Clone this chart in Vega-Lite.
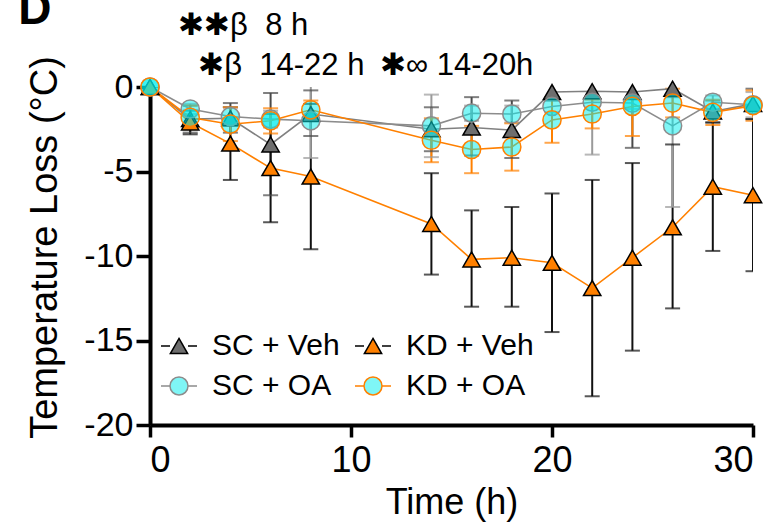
{
  "$schema": "https://vega.github.io/schema/vega-lite/v6.json",
  "width": 603,
  "height": 338,
  "autosize": {"type": "none"},
  "padding": {"left": 150, "top": 87, "right": 30, "bottom": 99},
  "background": "white",
  "config": {
    "view": {"stroke": null},
    "font": "Liberation Sans",
    "axis": {
      "domainColor": "#000000", "domainWidth": 4, "tickColor": "#000000", "tickWidth": 3.5,
      "labelColor": "#000000", "titleColor": "#000000", "grid": false,
      "labelFont": "Liberation Sans", "titleFont": "Liberation Sans", "titleFontWeight": "normal"
    },
    "legend": {
      "orient": "none", "legendX": 10, "legendY": 240, "columns": 2, "padding": 0,
      "columnPadding": 12, "rowPadding": 6, "labelOffset": 14,
      "labelFont": "Liberation Sans", "labelFontSize": 30, "labelColor": "#000000", "labelLimit": 300,
      "symbolSize": 1296, "symbolStrokeWidth": 1.5, "symbolOpacity": 1, "title": null
    }
  },
  "datasets": {
    "d": [
      {"group": "SC + Veh", "time": 0, "mean": 0, "lo": 0, "hi": 0},
      {"group": "SC + Veh", "time": 2, "mean": -1.9, "lo": -2.7, "hi": -1.1},
      {"group": "SC + Veh", "time": 4, "mean": -1.85, "lo": -2.7, "hi": -0.95},
      {"group": "SC + Veh", "time": 6, "mean": -3.4, "lo": -6.4, "hi": -0.35},
      {"group": "SC + Veh", "time": 8, "mean": -1.6, "lo": -2.9, "hi": -0.2},
      {"group": "SC + Veh", "time": 14, "mean": -2.5, "lo": -3.8, "hi": -1.2},
      {"group": "SC + Veh", "time": 16, "mean": -2.4, "lo": -4.05, "hi": -0.6},
      {"group": "SC + Veh", "time": 18, "mean": -2.55, "lo": -4.2, "hi": -0.8},
      {"group": "SC + Veh", "time": 20, "mean": -0.3, "lo": -0.8, "hi": 0.2},
      {"group": "SC + Veh", "time": 22, "mean": -0.25, "lo": -0.7, "hi": 0.2},
      {"group": "SC + Veh", "time": 24, "mean": -0.3, "lo": -3.6, "hi": 3.0},
      {"group": "SC + Veh", "time": 26, "mean": -0.1, "lo": -0.6, "hi": 0.4},
      {"group": "SC + Veh", "time": 28, "mean": -1.45, "lo": -2.1, "hi": -0.8},
      {"group": "SC + Veh", "time": 30, "mean": -1.0, "lo": -1.9, "hi": -0.1},
      {"group": "KD + Veh", "time": 0, "mean": 0, "lo": 0, "hi": 0},
      {"group": "KD + Veh", "time": 2, "mean": -2.1, "lo": -2.8, "hi": -1.4},
      {"group": "KD + Veh", "time": 4, "mean": -3.35, "lo": -5.5, "hi": -1.2},
      {"group": "KD + Veh", "time": 6, "mean": -4.8, "lo": -8.0, "hi": -1.6},
      {"group": "KD + Veh", "time": 8, "mean": -5.3, "lo": -9.6, "hi": -1.0},
      {"group": "KD + Veh", "time": 14, "mean": -8.1, "lo": -11.1, "hi": -5.1},
      {"group": "KD + Veh", "time": 16, "mean": -10.2, "lo": -13.0, "hi": -7.3},
      {"group": "KD + Veh", "time": 18, "mean": -10.1, "lo": -13.0, "hi": -7.1},
      {"group": "KD + Veh", "time": 20, "mean": -10.4, "lo": -14.5, "hi": -6.3},
      {"group": "KD + Veh", "time": 22, "mean": -11.9, "lo": -18.3, "hi": -5.5},
      {"group": "KD + Veh", "time": 24, "mean": -10.1, "lo": -15.6, "hi": -4.5},
      {"group": "KD + Veh", "time": 26, "mean": -8.3, "lo": -13.1, "hi": -3.4},
      {"group": "KD + Veh", "time": 28, "mean": -5.9, "lo": -9.7, "hi": -2.1},
      {"group": "KD + Veh", "time": 30, "mean": -6.4, "lo": -10.9, "hi": -1.9},
      {"group": "SC + OA", "time": 0, "mean": 0, "lo": 0, "hi": 0},
      {"group": "SC + OA", "time": 2, "mean": -1.3, "lo": -1.6, "hi": -1.0},
      {"group": "SC + OA", "time": 4, "mean": -1.75, "lo": -2.3, "hi": -1.2},
      {"group": "SC + OA", "time": 6, "mean": -1.9, "lo": -2.4, "hi": -1.4},
      {"group": "SC + OA", "time": 8, "mean": -2.0, "lo": -4.2, "hi": 0.2},
      {"group": "SC + OA", "time": 14, "mean": -2.3, "lo": -4.15, "hi": -0.45},
      {"group": "SC + OA", "time": 16, "mean": -1.55, "lo": -2.0, "hi": -1.1},
      {"group": "SC + OA", "time": 18, "mean": -1.6, "lo": -2.1, "hi": -1.1},
      {"group": "SC + OA", "time": 20, "mean": -1.15, "lo": -1.5, "hi": -0.8},
      {"group": "SC + OA", "time": 22, "mean": -0.9, "lo": -4.0, "hi": 2.2},
      {"group": "SC + OA", "time": 24, "mean": -0.95, "lo": -1.3, "hi": -0.6},
      {"group": "SC + OA", "time": 26, "mean": -2.3, "lo": -7.1, "hi": 2.5},
      {"group": "SC + OA", "time": 28, "mean": -0.9, "lo": -1.3, "hi": -0.5},
      {"group": "SC + OA", "time": 30, "mean": -1.05, "lo": -1.8, "hi": -0.3},
      {"group": "KD + OA", "time": 0, "mean": 0, "lo": 0, "hi": 0},
      {"group": "KD + OA", "time": 2, "mean": -1.8, "lo": -2.5, "hi": -1.1},
      {"group": "KD + OA", "time": 4, "mean": -2.2, "lo": -3.2, "hi": -1.2},
      {"group": "KD + OA", "time": 6, "mean": -2.0, "lo": -2.75, "hi": -1.25},
      {"group": "KD + OA", "time": 8, "mean": -1.35, "lo": -1.85, "hi": -0.8},
      {"group": "KD + OA", "time": 14, "mean": -3.15, "lo": -4.45, "hi": -1.85},
      {"group": "KD + OA", "time": 16, "mean": -3.7, "lo": -5.1, "hi": -2.3},
      {"group": "KD + OA", "time": 18, "mean": -3.55, "lo": -4.95, "hi": -2.15},
      {"group": "KD + OA", "time": 20, "mean": -1.95, "lo": -3.3, "hi": -0.6},
      {"group": "KD + OA", "time": 22, "mean": -1.6, "lo": -2.45, "hi": -0.75},
      {"group": "KD + OA", "time": 24, "mean": -1.15, "lo": -2.9, "hi": 0.6},
      {"group": "KD + OA", "time": 26, "mean": -0.95, "lo": -1.8, "hi": -0.1},
      {"group": "KD + OA", "time": 28, "mean": -1.5, "lo": -2.25, "hi": -0.75},
      {"group": "KD + OA", "time": 30, "mean": -1.1, "lo": -2.0, "hi": -0.2}
    ],
    "notes": [
      {"label": "✱✱β\u00a0\u00a08 h", "x": 1.4, "y": 3.05, "kind": "note"},
      {"label": "✱β\u00a0\u00a014-22 h", "x": 2.4, "y": 0.7, "kind": "note"},
      {"label": "✱∞ 14-20h", "x": 11.45, "y": 0.7, "kind": "note"},
      {"label": "D", "x": -6.55, "y": 3.73, "kind": "panel"}
    ]
  },
  "encoding": {
    "x": {"field": "time", "type": "quantitative",
      "scale": {"domain": [0, 30], "nice": false, "zero": false},
      "axis": {"values": [0, 10, 20, 30], "tickSize": 12, "labelFontSize": 36, "labelPadding": 6,
        "title": "Time (h)", "titleFontSize": 36, "titlePadding": 7}},
    "y": {"field": "mean", "type": "quantitative",
      "scale": {"domain": [-20, 0], "nice": false, "zero": false},
      "axis": {"values": [0, -5, -10, -15, -20], "labelExpr": "toString(datum.value)", "tickSize": 14, "labelFontSize": 34, "labelPadding": 3,
        "title": "Temperature Loss (°C)", "titleFontSize": 38, "titlePadding": 19, "titleY": 160}}
  },
  "resolve": {"scale": {"color": "independent"}},
  "layer": [
    {
      "data": {"values": [{"a": 0}]},
      "mark": {"type": "rule", "color": "#000000", "strokeWidth": 2.5, "strokeDash": [2.5, 3.5]},
      "encoding": {"x": {"datum": 0}, "x2": {"datum": 30}, "y": {"datum": 0}}
    },
    {
      "data": {"name": "d"},
      "mark": {"type": "rule", "strokeWidth": 2, "clip": true},
      "encoding": {
        "y": {"field": "lo"}, "y2": {"field": "hi"},
        "color": {"field": "group", "type": "nominal", "legend": null,
          "scale": {"domain": ["SC + Veh", "SC + OA", "KD + Veh", "KD + OA"], "range": ["#4a4a4a", "#9a9a9a", "#111111", "#ff8000"]}}
      }
    },
    {
      "data": {"name": "d"},
      "mark": {"type": "tick", "orient": "horizontal", "size": 15, "thickness": 2, "clip": true},
      "encoding": {
        "y": {"field": "lo"},
        "color": {"field": "group", "type": "nominal", "legend": null,
          "scale": {"domain": ["SC + Veh", "SC + OA", "KD + Veh", "KD + OA"], "range": ["#4a4a4a", "#9a9a9a", "#111111", "#ff8000"]}}
      }
    },
    {
      "data": {"name": "d"},
      "mark": {"type": "tick", "orient": "horizontal", "size": 15, "thickness": 2, "clip": true},
      "encoding": {
        "y": {"field": "hi"},
        "color": {"field": "group", "type": "nominal", "legend": null,
          "scale": {"domain": ["SC + Veh", "SC + OA", "KD + Veh", "KD + OA"], "range": ["#4a4a4a", "#9a9a9a", "#111111", "#ff8000"]}}
      }
    },
    {
      "data": {"name": "d"},
      "mark": {"type": "line", "strokeWidth": 1.6},
      "encoding": {
        "detail": {"field": "group"},
        "color": {"field": "group", "type": "nominal", "legend": null,
          "scale": {"domain": ["SC + Veh", "SC + OA", "KD + Veh", "KD + OA"], "range": ["#808080", "#8c8c8c", "#ff8000", "#ff8000"]}}
      }
    },
    {
      "data": {"name": "d"},
      "transform": [{"filter": {"field": "group", "oneOf": ["SC + Veh", "KD + Veh"]}}],
      "mark": {"type": "point", "shape": "triangle-up", "size": 300, "filled": true, "strokeWidth": 1.5, "opacity": 1},
      "encoding": {
        "fill": {"field": "group", "type": "nominal"},
        "stroke": {"field": "group", "type": "nominal"}
      }
    },
    {
      "data": {"name": "d"},
      "transform": [{"filter": {"field": "group", "oneOf": ["SC + OA", "KD + OA"]}}],
      "mark": {"type": "point", "shape": "circle", "size": 330, "filled": true, "strokeWidth": 1.5, "opacity": 1},
      "encoding": {
        "fill": {"field": "group", "type": "nominal"},
        "stroke": {"field": "group", "type": "nominal"}
      }
    },
    {
      "data": {"name": "d"},
      "mark": {"type": "point", "filled": true, "opacity": 0},
      "encoding": {
        "shape": {"field": "group", "type": "nominal",
          "scale": {"domain": ["SC + Veh", "SC + OA", "KD + Veh", "KD + OA"],
            "range": [
              "M-1,0H-0.5M0.5,0H1M0,-0.42L0.48,0.42L-0.48,0.42Z",
              "M-1,0H-0.5M0.5,0H1M0.5,0A0.5,0.5,0,1,1,-0.5,0A0.5,0.5,0,1,1,0.5,0Z",
              "M-1,0H-0.5M0.5,0H1M0,-0.42L0.48,0.42L-0.48,0.42Z",
              "M-1,0H-0.5M0.5,0H1M0.5,0A0.5,0.5,0,1,1,-0.5,0A0.5,0.5,0,1,1,0.5,0Z"
            ]}},
        "fill": {"field": "group", "type": "nominal",
          "scale": {"domain": ["SC + Veh", "SC + OA", "KD + Veh", "KD + OA"],
            "range": ["#6e6e6e", "rgba(0,238,238,0.5)", "#ff8000", "rgba(0,238,238,0.5)"]}},
        "stroke": {"field": "group", "type": "nominal",
          "scale": {"domain": ["SC + Veh", "SC + OA", "KD + Veh", "KD + OA"],
            "range": ["#000000", "#8c8c8c", "#000000", "#ff8000"]}}
      }
    },
    {
      "data": {"name": "notes"},
      "transform": [{"filter": "datum.kind == 'note'"}],
      "mark": {"type": "text", "align": "left", "baseline": "alphabetic", "fontSize": 31, "color": "#000000", "font": "Liberation Sans, DejaVu Sans"},
      "encoding": {
        "x": {"field": "x", "type": "quantitative"},
        "y": {"field": "y", "type": "quantitative"},
        "text": {"field": "label"}
      }
    },
    {
      "data": {"name": "notes"},
      "transform": [{"filter": "datum.kind == 'panel'"}],
      "mark": {"type": "text", "align": "left", "baseline": "alphabetic", "fontSize": 46, "fontWeight": "bold", "color": "#000000"},
      "encoding": {
        "x": {"field": "x", "type": "quantitative"},
        "y": {"field": "y", "type": "quantitative"},
        "text": {"field": "label"}
      }
    }
  ]
}
